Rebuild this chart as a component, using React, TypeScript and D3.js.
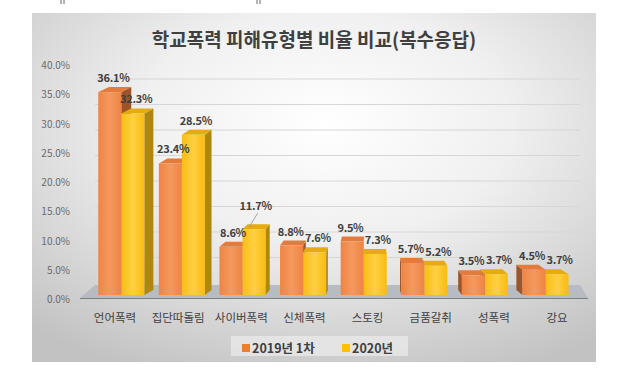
import React from "react";
import * as d3 from "d3";

// data
const categories = ["언어폭력", "집단따돌림", "사이버폭력", "신체폭력", "스토킹", "금품갈취", "성폭력", "강요"];
const series = ["2019년 1차", "2020년"];
const values2019 = [36.1, 23.4, 8.6, 8.8, 9.5, 5.7, 3.5, 4.5];
const values2020 = [32.3, 28.5, 11.7, 7.6, 7.3, 5.2, 3.7, 3.7];
const yTicks = [0, 5, 10, 15, 20, 25, 30, 35, 40];

const W = 623;
const H = 372;
const FONT = "'Noto Sans CJK KR', 'Noto Sans', sans-serif";

// perspective helpers
const VX = 370;
const K = 0.04;
const DY = -5;
const off = (x: number) => (VX - x) * K;

const colors = [
  { front: "url(#gOrange)", top: "#e37b3d", side: "#9c5428", legend: "#ed7d31" },
  { front: "url(#gYellow)", top: "#e6ac0e", side: "#ad870f", legend: "#ffc000" },
];

export default function App() {
  const x0 = d3.scaleBand<string>().domain(categories).range([91, 575.8]).paddingInner(0.24).paddingOuter(0.12);
  const x1 = d3.scaleBand<string>().domain(series).range([0, x0.bandwidth()]);
  const xLabel = d3.scalePoint<string>().domain(categories).range([115, 557]);
  const yFront = d3.scaleLinear().domain([0, 40]).range([295, 70.2]);
  const yBack = d3.scaleLinear().domain([0, 40]).range([283, 79]);
  const yAxis = d3.scaleLinear().domain([0, 40]).range([299.5, 65.5]);
  const fmt = d3.format(".1f");
  const data = [values2019, values2020];
  const yb = yFront(0);

  const bar = (ci: number, si: number) => {
    const v = data[si][ci];
    const a = (x0(categories[ci]) ?? 0) + (x1(series[si]) ?? 0);
    const b = a + x1.bandwidth();
    const t = yFront(v);
    const c = colors[si];
    const oa = off(a);
    const ob = off(b);
    const top = `${a},${t} ${b},${t} ${b + ob},${t + DY} ${a + oa},${t + DY}`;
    let side = "";
    if (ob > 0) side = `${b},${t} ${b + ob},${t + DY} ${b + ob},${yb + DY} ${b},${yb}`;
    else if (oa < 0) side = `${a},${t} ${a + oa},${t + DY} ${a + oa},${yb + DY} ${a},${yb}`;
    return (
      <g key={`${ci}-${si}`}>
        {side && <polygon points={side} fill={c.side} />}
        <polygon points={top} fill={c.top} />
        <rect x={a} y={t} width={b - a} height={yb - t} fill={c.front} />
      </g>
    );
  };

  const label = (ci: number, si: number) => {
    const v = data[si][ci];
    const a = (x0(categories[ci]) ?? 0) + (x1(series[si]) ?? 0);
    const cx = a + x1.bandwidth() / 2;
    // labels of close pairs spread a little apart
    const spread = ci >= 3 ? (si === 0 ? -2 : 2.5) : 0;
    const lx = cx + Math.max(0, off(cx)) * 0.35 + spread;
    const t = yFront(v);
    const raised = ci === 2 && si === 1;
    const ly = raised ? t - 19 : t - 10;
    return (
      <g key={`l${ci}-${si}`}>
        {raised && <line x1={lx + 2} y1={ly + 3} x2={lx - 6} y2={t - 3} stroke="#8c8c8c" strokeWidth={0.8} />}
        <text x={lx} y={ly} textAnchor="middle" fontSize={11} fontWeight={700} fill="#404040" letterSpacing={-0.3}>
          {fmt(v)}%
        </text>
      </g>
    );
  };

  return (
    <svg width={W} height={H} style={{ position: "absolute", left: 0, top: 0 }} fontFamily={FONT}>
      <defs>
        <radialGradient id="gBg" cx="52%" cy="32%" r="78%">
          <stop offset="0%" stopColor="#ffffff" />
          <stop offset="42%" stopColor="#f0f0f0" />
          <stop offset="100%" stopColor="#c2c2c2" />
        </radialGradient>
        <linearGradient id="gOrange" x1="0" x2="1" y1="0" y2="0">
          <stop offset="0%" stopColor="#ef8444" />
          <stop offset="50%" stopColor="#f5995e" />
          <stop offset="100%" stopColor="#ee8444" />
        </linearGradient>
        <linearGradient id="gYellow" x1="0" x2="1" y1="0" y2="0">
          <stop offset="0%" stopColor="#f9bd14" />
          <stop offset="50%" stopColor="#ffd043" />
          <stop offset="100%" stopColor="#f8bc10" />
        </linearGradient>
      </defs>
      <rect width={W} height={H} fill="#ffffff" />
      {/* stray marks above the panel */}
      <path d="M61,0 L61,4 M64,0 L64,4 M257,0 L257,4 M260,0 L260,4" stroke="#666" strokeWidth={1} />
      <rect x={32} y={13} width={564} height={349} fill="url(#gBg)" />

      <text x={314} y={47} textAnchor="middle" fontSize={19} fontWeight={700} fill="#404040">
        학교폭력 피해유형별 비율 비교(복수응답)
      </text>

      {/* back wall gridlines */}
      {yTicks.slice(1).map((v) => (
        <line key={`g${v}`} x1={95} x2={580} y1={yBack(v)} y2={yBack(v)} stroke="#d6d6d6" strokeWidth={1} />
      ))}

      {/* value axis labels */}
      {yTicks.map((v) => (
        <text key={`y${v}`} x={70} y={yAxis(v)} dy="0.35em" textAnchor="end" fontSize={10} fill="#6a6a6a">
          {fmt(v)}%
        </text>
      ))}

      {/* floor */}
      <polygon points="80,298 588,298 580,285 95,285" fill="#b7bcc3" />
      <line x1={80} x2={588} y1={298.5} y2={298.5} stroke="#7f7f7f" strokeWidth={1.2} />

      {/* bars */}
      {categories.map((c, ci) => {
        const center = (x0(c) ?? 0) + x0.bandwidth() / 2;
        const order = center < VX ? [0, 1] : [1, 0];
        return <g key={c}>{order.map((si) => bar(ci, si))}</g>;
      })}

      {/* data labels */}
      {categories.map((c, ci) => series.map((s, si) => label(ci, si)))}

      {/* category labels */}
      {categories.map((c) => (
        <text key={`x${c}`} x={xLabel(c)} y={322} textAnchor="middle" fontSize={11.5} fill="#404040">
          {c}
        </text>
      ))}

      {/* legend */}
      <rect x={231} y={336} width={177} height={20} fill="#e8e8e8" opacity={0.8} />
      {series.map((s, si) => {
        const lx = si === 0 ? 242 : 342;
        return (
          <g key={s}>
            <rect x={lx} y={344} width={8} height={8} fill={colors[si].legend} />
            <text x={lx + 10} y={353} fontSize={12.5} fontWeight={700} fill="#404040">
              {s}
            </text>
          </g>
        );
      })}
    </svg>
  );
}
